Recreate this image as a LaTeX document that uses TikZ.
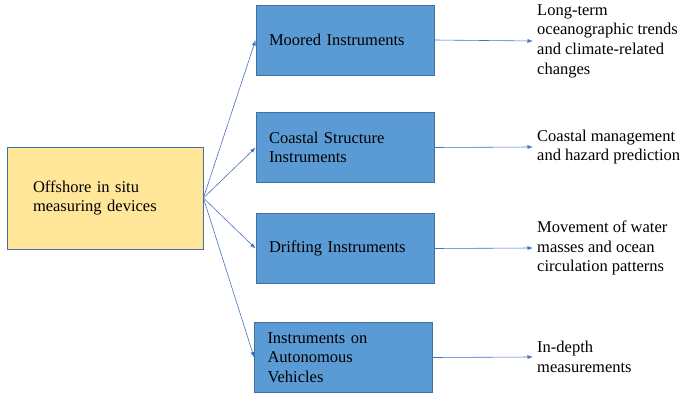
\documentclass[tikz,border=0pt]{standalone}
\usepackage{fontspec}
\setmainfont{Liberation Serif}
\usetikzlibrary{arrows.meta}
\definecolor{boxblue}{HTML}{5B9BD5}
\definecolor{edgeblue}{HTML}{41719C}
\definecolor{lineblue}{HTML}{4472C4}
\definecolor{boxyellow}{HTML}{FFE699}
\begin{document}
\begin{tikzpicture}[x=1pt,y=-1pt,
        txt/.style={font=\fontsize{16.5}{19.7}\selectfont},
        source/.style={txt,draw=edgeblue,fill=boxyellow,line width=0.8pt,minimum width=196pt,minimum height=102pt,text width=144pt,inner xsep=26pt,align=left},
        kind/.style={txt,draw=edgeblue,fill=boxblue,line width=0.8pt,minimum height=70pt,text width=152pt,inner xsep=13pt,align=left},
        use/.style={txt,anchor=west,inner xsep=4pt,align=left},
        link/.style={draw=lineblue,line width=0.6pt,-{Latex[length=5.5pt,width=4pt]}}]
        \useasboundingbox (0,0) rectangle (681,398);

        \node[source] (devices) at (105,198) {Offshore in situ\\measuring devices};

        \node[kind] (moored) at (345,40) {Moored Instruments};
        \node[kind] (coastal) at (345,147.5) {Coastal Structure\\Instruments};
        \node[kind] (drifting) at (345,248.5) {Drifting Instruments};
        \node[kind] (vehicles) at (343.5,357.5) {Instruments on\\Autonomous\\Vehicles};

        \node[use] (trends) at (533,41) {Long-term\\oceanographic trends\\and climate-related\\changes};
        \node[use] (hazard) at (533,147) {Coastal management\\and hazard prediction};
        \node[use] (masses) at (533,248) {Movement of water\\masses and ocean\\circulation patterns};
        \node[use] (depth) at (533,357) {In-depth\\measurements};

        \foreach \k in {moored,coastal,drifting,vehicles}
            \draw[link] (devices.east) -- (\k.west);

        \draw[link] (moored.east) -- (trends.west);
        \draw[link] (coastal.east) -- (hazard.west);
        \draw[link] (drifting.east) -- (masses.west);
        \draw[link] (vehicles.east) -- (depth.west);
    \end{tikzpicture}
\end{document}
